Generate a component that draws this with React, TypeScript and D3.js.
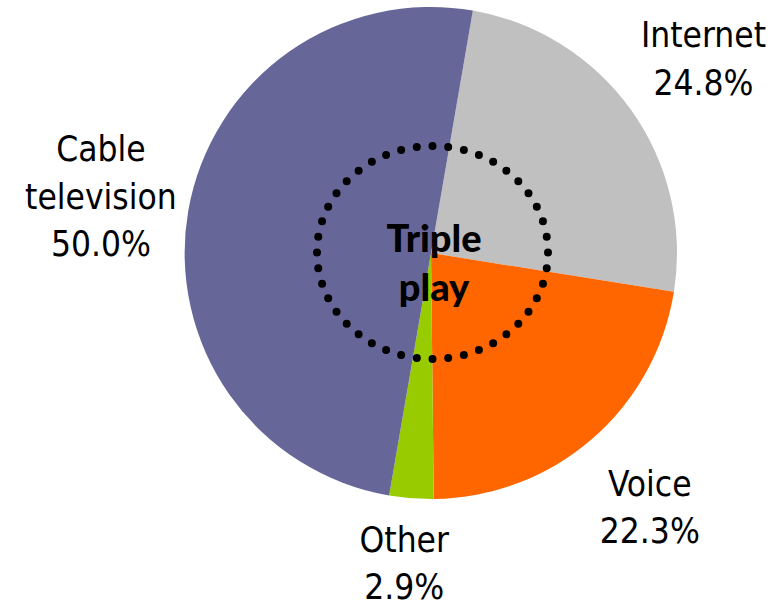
import React from "react";
import * as d3 from "d3";

const categories = ["Internet", "Voice", "Other", "Cable television"];
const values = [24.8, 22.3, 2.9, 50.0];
const labelLines = [["Internet"], ["Voice"], ["Other"], ["Cable", "television"]];
const colors = ["#C0C0C0", "#FF6600", "#99CC00", "#666699"];
const centerText = ["Triple", "play"];

const W = 782;
const H = 606;
const cx = 431;
const cy = 253;
const R = 246;
const startDeg = 9.8;
const labelR = 335;
const lineH = 47.5;
const capH = 26;
const fontSize = 35;
const labelFont = "'DejaVu Sans Condensed', 'DejaVu Sans', sans-serif";

export default function App() {
  const data = categories.map((c, i) => ({ c, v: values[i], i }));
  const start = (startDeg * Math.PI) / 180;
  const pie = d3
    .pie<any>()
    .sort(null)
    .value((d) => d.v)
    .startAngle(start)
    .endAngle(start + 2 * Math.PI);
  const arcs = pie(data);
  const arc = d3.arc<any>().innerRadius(0).outerRadius(R);

  return (
    <svg
      width={W}
      height={H}
      style={{ position: "absolute", left: 0, top: 0, background: "#fff" }}
    >
      <g transform={`translate(${cx},${cy})`}>
        {arcs.map((a, i) => (
          <path key={i} d={arc(a) as string} fill={colors[i]} />
        ))}
      </g>
      <ellipse
        cx={432.5}
        cy={252.5}
        rx={115.5}
        ry={106.5}
        fill="none"
        stroke="#000"
        strokeWidth={8}
        strokeLinecap="round"
        pathLength={44}
        strokeDasharray="0 1"
      />
      {centerText.map((t, k) => (
        <text
          key={k}
          x={434}
          y={252 + k * 49}
          textAnchor="middle"
          fontFamily="Lato, 'Open Sans', sans-serif"
          fontWeight={900}
          fontSize={38}
          fill="#000"
        >
          {t}
        </text>
      ))}
      {arcs.map((a, i) => {
        const mid = (a.startAngle + a.endAngle) / 2;
        const lx = cx + labelR * Math.sin(mid);
        const ly = cy - labelR * Math.cos(mid);
        const lines = [...labelLines[i], `${values[i].toFixed(1)}%`];
        const n = lines.length;
        let b1 = ly - ((n - 1) * lineH - capH) / 2;
        const maxLast = H - 7;
        if (b1 + (n - 1) * lineH > maxLast) b1 = maxLast - (n - 1) * lineH;
        return (
          <text
            key={i}
            textAnchor="middle"
            fontFamily={labelFont}
            fontSize={fontSize}
            fill="#000"
          >
            {lines.map((l, k) => (
              <tspan key={k} x={lx} y={b1 + k * lineH}>
                {l}
              </tspan>
            ))}
          </text>
        );
      })}
    </svg>
  );
}
